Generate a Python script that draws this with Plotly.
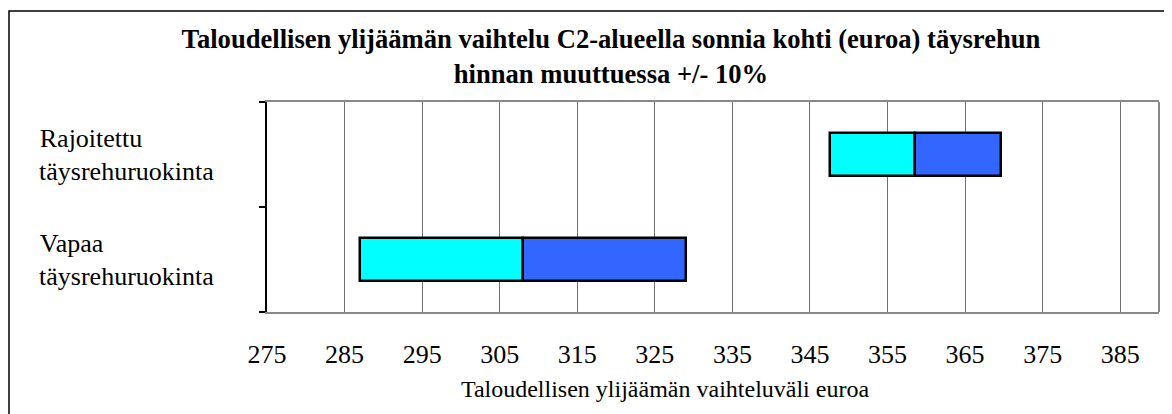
import plotly.graph_objects as go

# ---- data ----
categories = ["Vapaa täysrehuruokinta", "Rajoitettu täysrehuruokinta"]
low_values = [287.0, 347.6]
mid_values = [308.0, 358.6]
high_values = [329.0, 369.6]
tick_values = [275, 285, 295, 305, 315, 325, 335, 345, 355, 365, 375, 385]
title_text = "Taloudellisen ylijäämän vaihtelu C2-alueella sonnia kohti (euroa) täysrehun<br>hinnan muuttuessa +/- 10%"
x_title_text = "Taloudellisen ylijäämän vaihteluväli euroa"

FONT = "Liberation Serif, Times New Roman, serif"
NB = "\u00a0"
X_RANGE = [275, 390]
# page body has an 8px margin; the figure is laid out in page pixels minus 8
OFF = 8
W, H = 1172 - OFF, 414 - OFF
L, R, T, B = 267 - OFF, 13, 102 - OFF, 102
PW, PH = W - L - R, H - T - B


def px_x(px):
    return (px - OFF - L) / PW


# two-line, visually left-aligned category labels (first line padded with no-break spaces)
label_pad = [17, 11]
tick_text = []
for cat, pad in zip(categories, label_pad):
    first, second = cat.split(" ", 1)
    tick_text.append(first + NB * pad + "<br>" + second)

# axis title is drawn left of the plot centre: pad its end with no-break spaces
x_title_padded = x_title_text + NB * 15 + '<span style="color:rgba(0,0,0,0)">.</span>'

fig = go.Figure()
fig.add_trace(go.Bar(
    y=categories, x=[m - l for l, m in zip(low_values, mid_values)], base=low_values,
    orientation="h", width=0.41,
    marker=dict(color="#00FFFF", line=dict(color="black", width=2.5)),
    showlegend=False, hoverinfo="skip",
))
fig.add_trace(go.Bar(
    y=categories, x=[h - m for m, h in zip(mid_values, high_values)], base=mid_values,
    orientation="h", width=0.41,
    marker=dict(color="#3366FF", line=dict(color="black", width=2.5)),
    showlegend=False, hoverinfo="skip",
))

shapes = [
    dict(type="rect", xref="paper", yref="paper", x0=px_x(9), x1=1.3, y0=-1.0,
         y1=(H - B - (11 - OFF)) / PH,
         line=dict(color="black", width=1.5), fillcolor="rgba(0,0,0,0)", layer="above"),
    dict(type="line", xref="paper", yref="paper", x0=1, x1=1, y0=0, y1=1,
         line=dict(color="#888888", width=2), layer="above"),
]

fig.update_layout(
    width=W, height=H, autosize=False,
    margin=dict(l=L, r=R, t=T, b=B, pad=0),
    paper_bgcolor="white", plot_bgcolor="white",
    barmode="overlay", bargap=0,
    title=dict(text="<b>" + title_text + "</b>", xref="paper", x=px_x(611), xanchor="center",
               yref="container", y=1 - (48 - OFF) / H, yanchor="middle",
               font=dict(family=FONT, size=26.6, color="black")),
    shapes=shapes,
    font=dict(family=FONT, color="black"),
)
fig.update_xaxes(
    range=X_RANGE, tickvals=tick_values, ticks="", showgrid=True,
    gridcolor="#707070", gridwidth=1.3, zeroline=False,
    showline=True, linecolor="#888888", linewidth=2, mirror=True,
    tickfont=dict(family=FONT, size=26, color="black"), ticklabelstandoff=18,
    title=dict(text=x_title_padded, standoff=12,
               font=dict(family=FONT, size=24, color="black")),
)
fig.update_yaxes(
    categoryorder="array", categoryarray=categories,
    tickmode="array", tickvals=categories, ticktext=tick_text,
    tickfont=dict(family=FONT, size=26, color="black"), ticklabelstandoff=46,
    ticks="outside", ticklen=6, tickcolor="black", tickwidth=1.5, tickson="boundaries",
    showgrid=False, zeroline=False, showline=True, linecolor="black", linewidth=2,
)

fig.write_html("out.html")
